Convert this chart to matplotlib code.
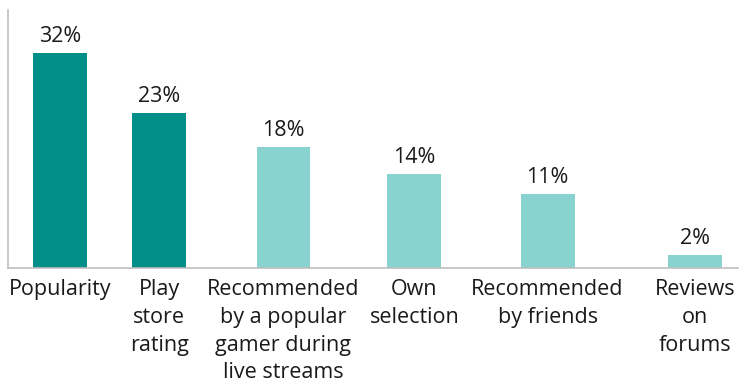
import matplotlib.pyplot as plt

categories = ['Popularity', 'Play\nstore\nrating', 'Recommended\nby a popular\ngamer during\nlive streams',
              'Own\nselection', 'Recommended\nby friends', 'Reviews\non\nforums']
values = [32, 23, 18, 14, 11, 2]
highlight = [True, True, False, False, False, False]

# slot centres along the x axis (the original spacing is uneven)
slots = [0, 0.78, 1.76, 2.79, 3.84, 5.0]

dark = '#008E89'
light = '#88D2CF'
colors = [dark if h else light for h in highlight]

plt.rcParams['font.family'] = ['Open Sans', 'DejaVu Sans']

fig = plt.figure(figsize=(7.39, 3.88), dpi=100)
ax = fig.add_axes([8 / 739, 120 / 388, 730 / 739, 258 / 388])

bars = ax.bar(slots, values, width=0.425, color=colors)
for b, v in zip(bars, values):
    ax.text(b.get_x() + b.get_width() / 2, v + 0.9, f'{v}%', ha='center', va='bottom',
            fontsize=15.5, color='#1a1a1a')

ax.set_xlim(-0.41, 5.34)
ax.set_ylim(0, 38.4)
ax.set_xticks(slots)
ax.set_xticklabels(categories, fontsize=15.5, linespacing=1.42, color='#1a1a1a')
ax.tick_params(axis='x', length=0, pad=8)
ax.set_yticks([])

for s in ['top', 'right']:
    ax.spines[s].set_visible(False)
for s in ['left', 'bottom']:
    ax.spines[s].set_color('#BFBFBF')
    ax.spines[s].set_linewidth(1.2)

fig.savefig('out.png', dpi=100)
